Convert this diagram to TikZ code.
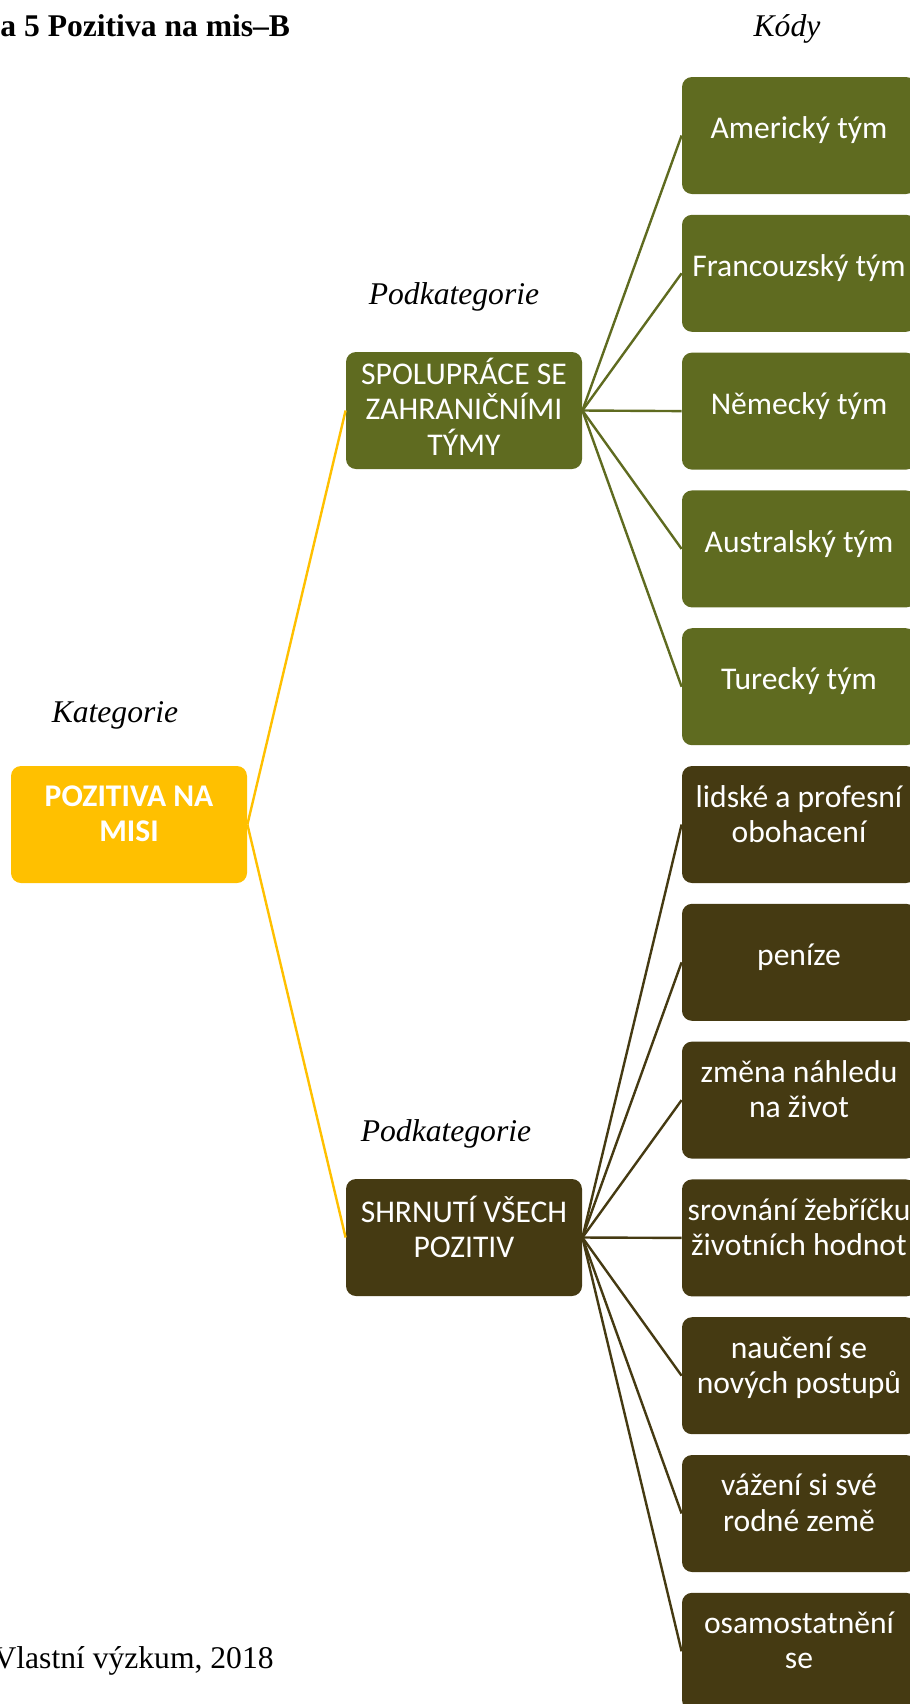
\documentclass[tikz,border=0pt]{standalone}
\usepackage{fontspec}
\setmainfont{Liberation Serif}
\newfontfamily\boxfont{Carlito}
\definecolor{catyellow}{HTML}{FFC000}
\definecolor{teamgreen}{HTML}{5F6B20}
\definecolor{sumbrown}{HTML}{453A12}
\newcommand\boxdp{10.8pt}
\tikzset{
  % fixed line metrics so every box places its text the same way
  box depth/.code={\renewcommand\boxdp{#1}},
  box/.style={rounded corners=5pt, minimum width=118pt, minimum height=58.5pt,
    inner sep=0pt, align=center, text=white,
    font=\boxfont\fontsize{15.8pt}{17.6pt}\selectfont,
    box depth=10.8pt,
    execute at begin node={\rule{0pt}{14pt}},
    execute at end node={\rule[-\boxdp]{0pt}{\boxdp}}},
  catbox/.style={box, fill=catyellow, font=\boxfont\bfseries\fontsize{15.8pt}{17.6pt}\selectfont},
  greenbox/.style={box, fill=teamgreen},
  brownbox/.style={box, fill=sumbrown},
  codebox/.style={minimum width=117pt},
  lbl/.style={font=\itshape\fontsize{15.8pt}{18pt}\selectfont, inner sep=0pt},
  catline/.style={draw=catyellow, line width=1.2pt},
  greenline/.style={draw=teamgreen, line width=1.2pt},
  brownline/.style={draw=sumbrown, line width=1.2pt}
}
\begin{document}
\begin{tikzpicture}[x=0.5pt, y=-0.5pt]
\useasboundingbox (0,0) rectangle (910,1704);
\clip (0,0) rectangle (910,1704);

% headings and labels
\node[anchor=base west, inner sep=0pt, font=\bfseries\fontsize{15.8pt}{18pt}\selectfont] (title) at (0,36) {a 5 Pozitiva na mis–B};
\node[lbl, anchor=base] (kody) at (787,36) {Kódy};
\node[lbl] (kat) at (115,715) {Kategorie};
\node[lbl] (podA) at (454,297) {Podkategorie};
\node[lbl] (podB) at (446,1134) {Podkategorie};
\node[anchor=base east, inner sep=0pt, font=\fontsize{15.8pt}{18pt}\selectfont] (src) at (274,1668) {Vlastní výzkum, 2018};

% category and subcategories
\node[catbox] (cat) at (129,824.5) {POZITIVA NA\\MISI};
\node[greenbox, box depth=3.8pt] (spol) at (464,410.5) {SPOLUPRÁCE SE\\ZAHRANIČNÍMI\\TÝMY};
\node[brownbox] (shrn) at (464,1237.5) {SHRNUTÍ VŠECH\\POZITIV};

% codes
\node[greenbox, codebox] (c1) at (799,135.5) {Americký tým};
\node[greenbox, codebox] (c2) at (799,273.3) {Francouzský tým};
\node[greenbox, codebox] (c3) at (799,411.1) {Německý tým};
\node[greenbox, codebox] (c4) at (799,548.9) {Australský tým};
\node[greenbox, codebox] (c5) at (799,686.7) {Turecký tým};
\node[brownbox, codebox] (c6) at (799,824.5) {lidské a profesní\\obohacení};
\node[brownbox, codebox] (c7) at (799,962.3) {peníze};
\node[brownbox, codebox] (c8) at (799,1100.1) {změna náhledu\\na život};
\node[brownbox, codebox] (c9) at (799,1237.9) {srovnání žebříčku\\životních hodnot};
\node[brownbox, codebox] (c10) at (799,1375.7) {naučení se\\nových postupů};
\node[brownbox, codebox] (c11) at (799,1513.5) {vážení si své\\rodné země};
\node[brownbox, codebox] (c12) at (799,1651.3) {osamostatnění\\se};

% connectors
\draw[catline] (cat.east) -- (spol.west);
\draw[catline] (cat.east) -- (shrn.west);
\foreach \c in {c1,c2,c3,c4,c5}
  \draw[greenline] (spol.east) -- (\c.west);
\foreach \c in {c6,c7,c8,c9,c10,c11,c12}
  \draw[brownline] (shrn.east) -- (\c.west);
\end{tikzpicture}
\end{document}
